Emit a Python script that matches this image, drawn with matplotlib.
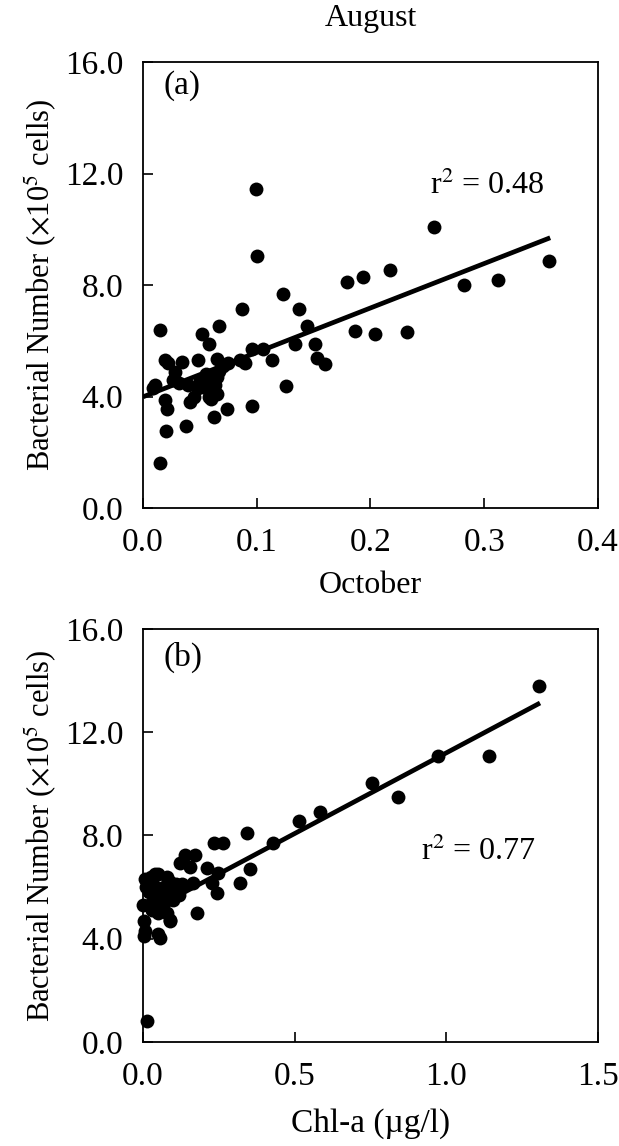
"""Bacterial number vs Chl-a, August and October panels."""

import matplotlib
matplotlib.use("Agg")
import matplotlib.pyplot as plt
import numpy as np

# August (a)
aug_chl = [0.015, 0.020, 0.038, 0.062, 0.074, 0.0955, 0.126, 0.015, 0.019, 0.022,
           0.0105, 0.009, 0.019, 0.021, 0.028, 0.034, 0.026, 0.041, 0.048, 0.0516,
           0.0583, 0.0668, 0.0647, 0.085, 0.0867, 0.090, 0.0955, 0.099, 0.100, 0.1057,
           0.113, 0.1228, 0.1336, 0.137, 0.1438, 0.151, 0.1526, 0.160, 0.179, 0.193,
           0.1863, 0.204, 0.217, 0.2317, 0.2557, 0.282, 0.3117, 0.3568,
           0.045, 0.048, 0.050, 0.052, 0.055, 0.055, 0.058, 0.060, 0.060, 0.062,
           0.065, 0.065, 0.067, 0.070, 0.075, 0.057, 0.063, 0.040, 0.032]
aug_bact = [1.60, 2.76, 2.94, 3.25, 3.54, 3.66, 4.38, 6.38, 5.30, 5.20,
            4.41, 4.29, 3.87, 3.57, 4.89, 5.24, 4.60, 3.81, 5.30, 6.26,
            5.88, 6.52, 5.36, 5.33, 7.13, 5.20, 5.69, 11.46, 9.03, 5.72,
            5.30, 7.67, 5.90, 7.13, 6.53, 5.90, 5.40, 5.16, 8.11, 8.29,
            6.36, 6.24, 8.53, 6.32, 10.10, 8.02, 8.17, 8.88,
            4.00, 4.30, 4.60, 4.50, 4.30, 4.80, 4.00, 4.50, 3.90, 4.20,
            4.70, 4.10, 4.90, 5.10, 5.20, 4.70, 4.40, 4.40, 4.50]
aug_fit_x = [0.0, 0.358]
aug_fit_y = [3.99, 9.70]

# October (b)
oct_chl = [0.012, 0.342, 0.233, 0.264, 0.43, 0.515, 0.584, 0.756, 0.842, 0.972,
           1.142, 1.306, 0.138, 0.171, 0.122, 0.155, 0.21, 0.248, 0.353, 0.32,
           0.243, 0.226, 0.177, 0.166, 0.002, 0.006, 0.004, 0.056, 0.089,
           0.005, 0.010, 0.020, 0.030, 0.040, 0.050, 0.060, 0.070, 0.080, 0.090,
           0.100, 0.110, 0.120, 0.060, 0.070, 0.080, 0.090, 0.020, 0.000, 0.050,
           0.040, 0.030, 0.100, 0.130, 0.040, 0.025, 0.050, 0.080]
oct_bact = [0.80, 8.09, 7.70, 7.70, 7.70, 8.57, 8.90, 10.03, 9.50, 11.06,
            11.06, 13.80, 7.24, 7.24, 6.92, 6.79, 6.73, 6.53, 6.69, 6.17,
            5.76, 6.15, 5.01, 6.15, 4.70, 4.30, 4.10, 4.01, 4.72,
            6.30, 6.00, 5.80, 6.20, 6.00, 6.50, 5.60, 6.00, 5.80, 6.20,
            5.90, 6.10, 5.70, 5.20, 5.40, 5.00, 4.70, 5.30, 5.30, 4.20,
            5.50, 5.10, 5.50, 6.10, 6.50, 6.40, 5.00, 6.40]
oct_fit_x = [0.01, 1.309]
oct_fit_y = [5.01, 13.13]

plt.rcParams["font.family"] = ["Liberation Serif", "DejaVu Serif"]
plt.rcParams["mathtext.fontset"] = "stix"

fig = plt.figure(figsize=(6.19, 11.46), dpi=100)
ax_a = fig.add_axes([0.231, 0.5567, 0.735, 0.389])
ax_b = fig.add_axes([0.231, 0.0908, 0.735, 0.3604])

ylabel = r"Bacterial Number ($\times$10$^5$ cells)"
fs = 24

for ax in (ax_a, ax_b):
    ax.set_ylim(0, 16)
    ax.set_yticks([0, 4, 8, 12, 16])
    ax.set_yticklabels(["0.0", "4.0", "8.0", "12.0", "16.0"])
    ax.tick_params(direction="in", length=7, width=1.2, labelsize=fs, pad=14)
    ax.tick_params(axis="x", pad=14)
    for sp in ax.spines.values():
        sp.set_linewidth(1.3)
    ax.set_ylabel(ylabel, fontsize=22, labelpad=4)

ax_a.scatter(aug_chl, aug_bact, s=100, color="black", zorder=3, linewidths=0)
ax_a.plot(aug_fit_x, aug_fit_y, color="black", linewidth=3.4, solid_capstyle="butt", zorder=2)
ax_a.set_xlim(0, 0.4)
ax_a.set_xticks([0, 0.1, 0.2, 0.3, 0.4])
ax_a.set_xticklabels(["0.0", "0.1", "0.2", "0.3", "0.4"])
ax_a.set_title("August", fontsize=23, pad=26)
ax_a.text(0.045, 0.948, "(a)", transform=ax_a.transAxes, fontsize=fs, va="center")
ax_a.text(0.757, 0.724, r"r$^2$ = 0.48", transform=ax_a.transAxes, fontsize=23,
          ha="center", va="center")

ax_b.scatter(oct_chl, oct_bact, s=100, color="black", zorder=3, linewidths=0, clip_on=False)
ax_b.plot(oct_fit_x, oct_fit_y, color="black", linewidth=3.4, solid_capstyle="butt", zorder=2)
ax_b.set_xlim(0, 1.5)
ax_b.set_xticks([0, 0.5, 1.0, 1.5])
ax_b.set_xticklabels(["0.0", "0.5", "1.0", "1.5"])
ax_b.set_title("October", fontsize=23, pad=26)
ax_b.set_xlabel("Chl-a (\u00b5g/l)", fontsize=fs, labelpad=12)
ax_b.text(0.045, 0.93, "(b)", transform=ax_b.transAxes, fontsize=fs, va="center")
ax_b.text(0.738, 0.46, r"r$^2$ = 0.77", transform=ax_b.transAxes, fontsize=23,
          ha="center", va="center")

fig.savefig("out.png", dpi=100)
